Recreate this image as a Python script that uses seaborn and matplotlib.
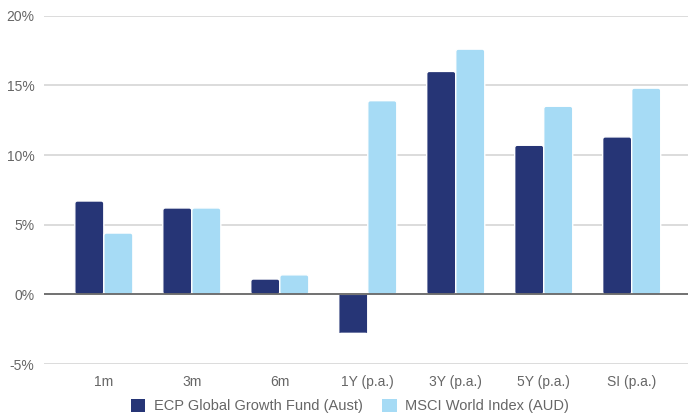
import matplotlib
matplotlib.use("Agg")
import matplotlib.pyplot as plt
import seaborn as sns
import pandas as pd
from matplotlib.ticker import FuncFormatter
from matplotlib.patches import FancyBboxPatch, Patch

periods = ["1m", "3m", "6m", "1Y (p.a.)", "3Y (p.a.)", "5Y (p.a.)", "SI (p.a.)"]
fund_name = "ECP Global Growth Fund (Aust)"
index_name = "MSCI World Index (AUD)"
fund_values = [6.7, 6.2, 1.1, -2.8, 16.0, 10.7, 11.3]
index_values = [4.4, 6.2, 1.4, 13.9, 17.6, 13.5, 14.8]
y_ticks = [-5, 0, 5, 10, 15, 20]
colors = ["#263576", "#a6dbf5"]

df = pd.DataFrame({
    "period": periods * 2,
    "value": fund_values + index_values,
    "series": [fund_name] * len(periods) + [index_name] * len(periods),
})

sns.set_theme(style="white")
plt.rcParams["font.family"] = ["Liberation Sans", "DejaVu Sans"]

text_color = "#666666"
fig = plt.figure(figsize=(6.89, 4.19), dpi=100)
ax = fig.add_axes([44 / 689, (419 - 364) / 419, 644 / 689, (364 - 15.7) / 419])

sns.barplot(data=df, x="period", y="value", hue="series", order=periods,
            palette=colors, saturation=1, width=0.66,
            edgecolor="white", linewidth=1.2, ax=ax, zorder=3, legend=False)

ax.set_ylim(-5, 20)
ax.set_xlim(-0.68, 6.64)

# round the bar corners slightly (like the original)
fig.canvas.draw()
bbox = ax.get_window_extent()
px_per_x = bbox.width / (6.64 + 0.68)
px_per_y = bbox.height / 25.0
aspect = px_per_x / px_per_y
for p in list(ax.patches):
    x, y = p.get_x(), p.get_y()
    w, h = p.get_width(), p.get_height()
    fb = FancyBboxPatch((x, y), w, h,
                        boxstyle=f"round,pad=0,rounding_size={2.5 / px_per_x}",
                        mutation_aspect=aspect,
                        facecolor=p.get_facecolor(), edgecolor="white",
                        linewidth=1.0, zorder=3)
    p.set_visible(False)
    ax.add_patch(fb)

ax.set_yticks(y_ticks)
ax.yaxis.set_major_formatter(FuncFormatter(lambda v, p: f"{int(v)}%"))
for t in y_ticks:
    ax.axhline(t, color="#d9d9d9" if t != 0 else "#666666", lw=1.3, zorder=1 if t != 0 else 4)
for s in ax.spines.values():
    s.set_visible(False)
ax.tick_params(axis="both", length=0, labelsize=10, colors=text_color)
ax.tick_params(axis="y", pad=7)
ax.tick_params(axis="x", pad=8)
ax.set_xlabel("")
ax.set_ylabel("")

handles = [Patch(facecolor=c, edgecolor="none") for c in colors]
labels = [fund_name, index_name]
fig.legend(handles, labels, loc="lower center", bbox_to_anchor=(0.508, -0.018), ncol=2,
           frameon=False, fontsize=10.5, labelcolor=text_color, handlelength=1.0,
           handleheight=1.0, handletextpad=0.6, columnspacing=1.3)

fig.savefig("out.png", dpi=100)
